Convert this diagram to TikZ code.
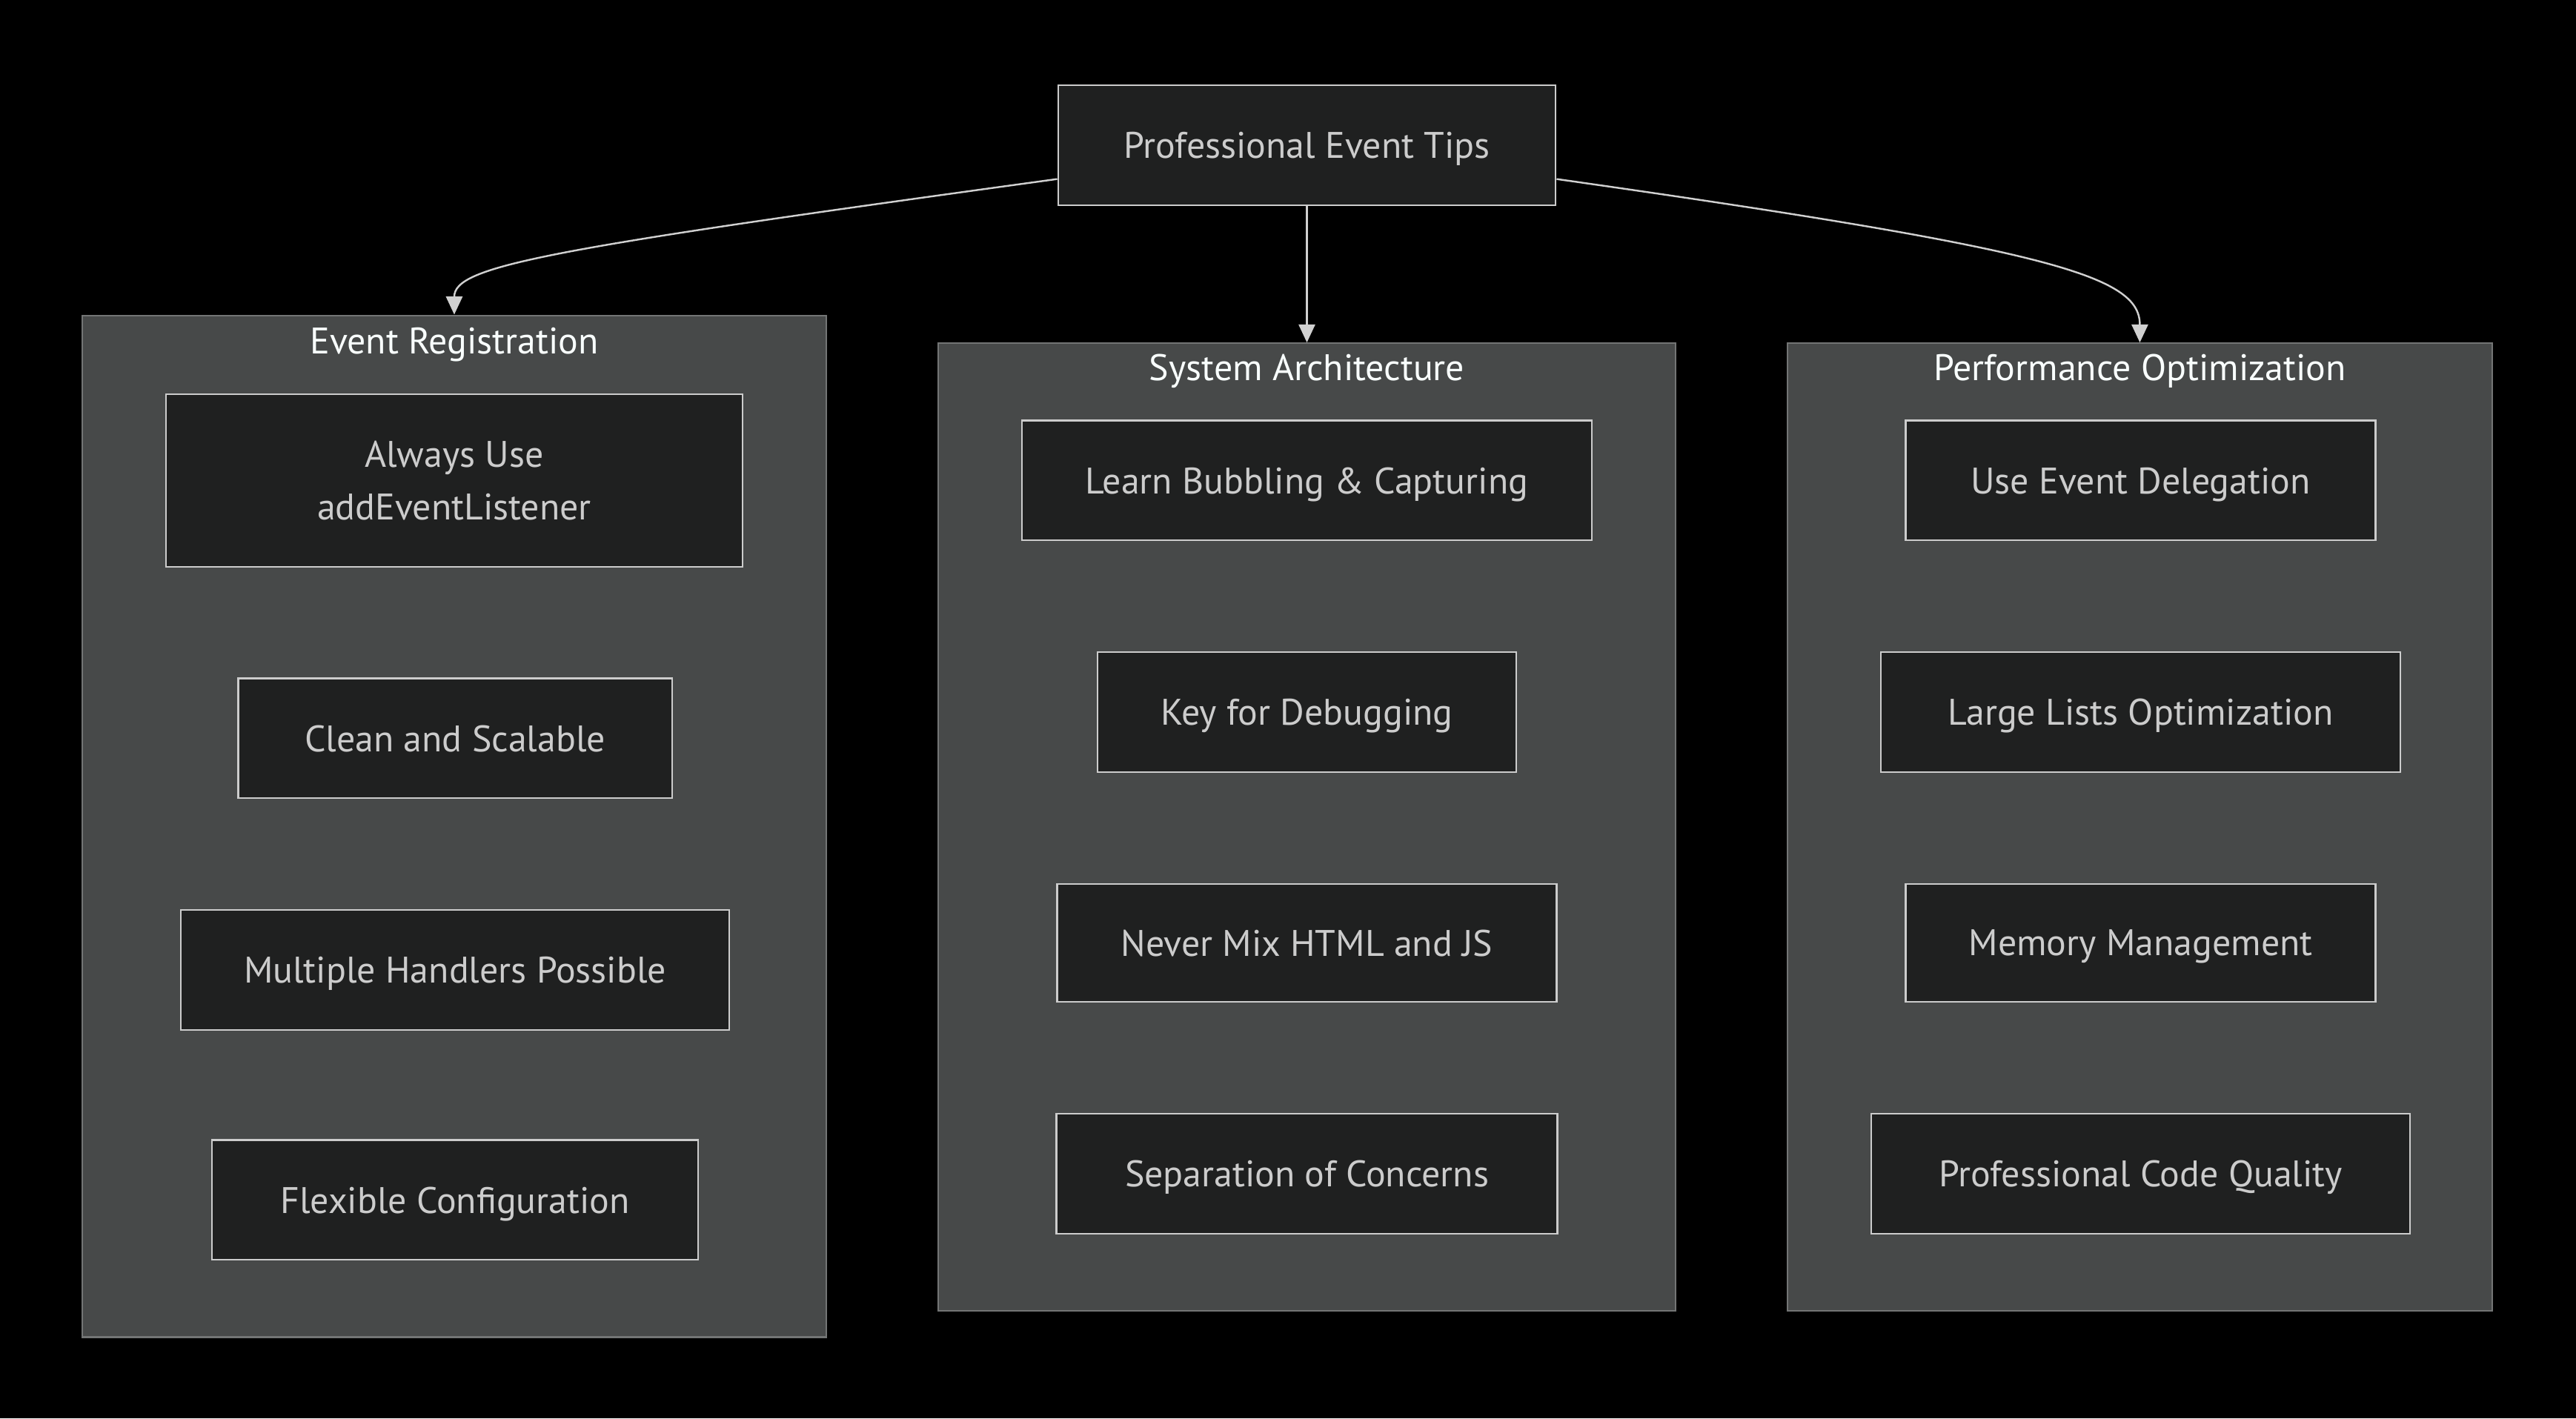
\documentclass[tikz,border=0pt]{standalone}
\usepackage{fontspec}
\setmainfont{PT Sans}
\usetikzlibrary{arrows.meta}
\definecolor{pagebg}{HTML}{000000}
\definecolor{cardfill}{HTML}{1F2020}
\definecolor{cardline}{HTML}{CCCCCC}
\definecolor{cardtext}{HTML}{CCCCCC}
\definecolor{groupfill}{HTML}{474949}
\definecolor{groupline}{HTML}{737575}
\definecolor{grouptext}{HTML}{F9FFFE}
\definecolor{linkcol}{HTML}{D0D0D0}
\begin{document}
\begin{tikzpicture}[x=1pt,y=-1pt,
  card/.style={draw=cardline, fill=cardfill, line width=1pt, text=cardtext,
    font=\fontsize{22.5}{32}\selectfont, align=center, inner sep=0pt, text depth=0pt},
  group/.style={draw=groupline, fill=groupfill, line width=1pt, inner sep=0pt},
  grouptitle/.style={text=grouptext, font=\fontsize{22.5}{26}\selectfont, inner sep=0pt},
  link/.style={draw=linkcol, line width=1.1pt, -{Triangle[length=11pt,width=10pt]}}]
% canvas
\fill[pagebg] (0,0) rectangle (1568,863.4);
\useasboundingbox (0,0) rectangle (1568,863.4);

% root
\node[card, minimum width=303, minimum height=73] (root) at (795.5,88.5) {Professional Event Tips};

% groups
\node[group, minimum width=453, minimum height=622] (g1) at (276.5,503) {};
\node[group, minimum width=449, minimum height=589] (g2) at (795.5,503.5) {};
\node[group, minimum width=429, minimum height=589] (g3) at (1302.5,503.5) {};
\node[grouptitle] (g1t) at (276.5,210) {Event Registration};
\node[grouptitle] (g2t) at (795.5,226) {System Architecture};
\node[grouptitle] (g3t) at (1302.5,226) {Performance Optimization};

% Event Registration
\node[card, minimum width=351, minimum height=105] (a1) at (276.5,292.5) {Always Use\\addEventListener};
\node[card, minimum width=264, minimum height=73] (a2) at (277,449.5) {Clean and Scalable};
\node[card, minimum width=334, minimum height=73] (a3) at (277,590.5) {Multiple Handlers Possible};
\node[card, minimum width=296, minimum height=73] (a4) at (277,730.5) {Flexible Configuration};

% System Architecture
\node[card, minimum width=347, minimum height=73] (b1) at (795.5,292.5) {Learn Bubbling \& Capturing};
\node[card, minimum width=255, minimum height=73] (b2) at (795.5,433.5) {Key for Debugging};
\node[card, minimum width=304, minimum height=72] (b3) at (795.5,574) {Never Mix HTML and JS};
\node[card, minimum width=305, minimum height=73] (b4) at (795.5,714.5) {Separation of Concerns};

% Performance Optimization
\node[card, minimum width=286, minimum height=73] (c1) at (1303,292.5) {Use Event Delegation};
\node[card, minimum width=316, minimum height=73] (c2) at (1303,433.5) {Large Lists Optimization};
\node[card, minimum width=286, minimum height=72] (c3) at (1303,574) {Memory Management};
\node[card, minimum width=328, minimum height=73] (c4) at (1303,714.5) {Professional Code Quality};

% links from the root to each group
\draw[link] ([yshift=-20.5pt]root.west) .. controls (330,152) and (276.5,162) .. (g1.north);
\draw[link] (root.south) -- (g2.north);
\draw[link] ([yshift=-20.5pt]root.east) .. controls (1250,152) and (1302.5,168) .. (g3.north);
\end{tikzpicture}
\end{document}
